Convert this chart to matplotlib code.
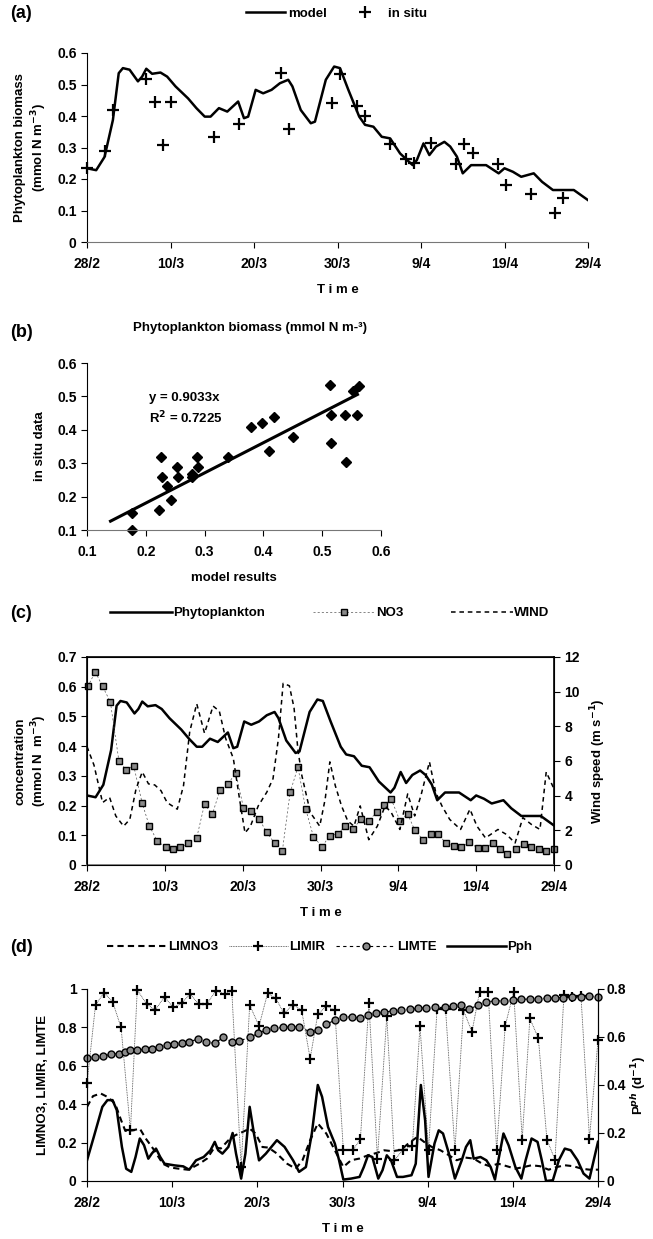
import numpy as np
import matplotlib
matplotlib.use('Agg')
import matplotlib.pyplot as plt

plt.rcParams['font.family'] = ['Liberation Sans', 'DejaVu Sans']
plt.rcParams['font.weight'] = 'bold'
plt.rcParams['axes.labelweight'] = 'bold'
plt.rcParams['font.size'] = 9.5
plt.rcParams['xtick.labelsize'] = 10
plt.rcParams['ytick.labelsize'] = 10

# ---- time axis (days after 28/2) ----
date_ticks = [0, 10, 20, 30, 40, 50, 60]
date_labels = ['28/2', '10/3', '20/3', '30/3', '9/4', '19/4', '29/4']

# ---- (a) model phytoplankton and in situ data ----
model_day = [0, 1.1, 2.1, 3.1, 3.8, 4.3, 5.1, 6.1, 6.6, 7.1, 7.8, 8.8, 9.6, 10.6, 12.1, 13.1,
             14.1, 14.8, 15.8, 16.8, 18.1, 18.8, 19.3, 20.2, 21.1, 22.1, 23.1, 24.1, 24.6,
             25.6, 26.8, 27.3, 28.6, 29.6, 30.3, 31.3, 32.6, 33.3, 34.3, 35.3, 36.3, 37.5,
             39.0, 39.5, 40.3, 41.0, 41.8, 42.8, 43.5, 44.3, 45.0, 46.0, 47.8, 49.3, 50.0,
             51.0, 52.0, 53.5, 54.5, 55.8, 58.3, 60.0]
model_phy = [0.234, 0.228, 0.27, 0.387, 0.536, 0.552, 0.547, 0.51, 0.525, 0.55, 0.534, 0.538,
             0.525, 0.494, 0.456, 0.425, 0.398, 0.398, 0.425, 0.414, 0.446, 0.393, 0.398,
             0.483, 0.472, 0.483, 0.504, 0.515, 0.494, 0.419, 0.377, 0.382, 0.515, 0.557,
             0.552, 0.483, 0.398, 0.372, 0.366, 0.334, 0.329, 0.281, 0.244, 0.26, 0.313,
             0.276, 0.303, 0.318, 0.303, 0.271, 0.218, 0.244, 0.244, 0.218, 0.234, 0.223,
             0.207, 0.218, 0.191, 0.165, 0.165, 0.133]
insitu_day = [0.0, 2.1, 3.1, 7.1, 8.1, 9.1, 10.1, 15.2, 18.2, 23.2, 24.2, 29.3, 30.3, 32.3,
              33.3, 36.3, 38.2, 39.2, 41.2, 44.2, 45.2, 46.2, 49.2, 50.2, 53.2, 56.0, 57.0]
insitu_phy = [0.234, 0.29, 0.42, 0.517, 0.446, 0.308, 0.446, 0.334, 0.374, 0.536, 0.358,
              0.44, 0.534, 0.432, 0.40, 0.311, 0.262, 0.252, 0.313, 0.247, 0.311, 0.281,
              0.249, 0.18, 0.151, 0.092, 0.14]

# ---- (b) model vs in situ ----
sc_model = [0.176, 0.176, 0.225, 0.227, 0.222, 0.236, 0.243, 0.253, 0.255, 0.278, 0.279,
            0.287, 0.289, 0.339, 0.379, 0.398, 0.410, 0.418, 0.451, 0.513, 0.515, 0.515,
            0.538, 0.540, 0.552, 0.559, 0.562]
sc_insitu = [0.15, 0.10, 0.32, 0.26, 0.16, 0.233, 0.19, 0.288, 0.258, 0.268, 0.258, 0.32,
             0.29, 0.318, 0.408, 0.42, 0.337, 0.437, 0.377, 0.535, 0.445, 0.36, 0.445,
             0.305, 0.515, 0.445, 0.532]
fit_slope = 0.9033
fit_r2 = 0.7225
fit_x = [0.14, 0.56]

# ---- (c) NO3 and wind ----
no3_day = [0.1, 1.07, 2.0, 3.0, 4.1, 5.0, 6.0, 7.1, 8.0, 9.0, 10.1, 11.1, 12.0, 13.0, 14.1,
           15.1, 16.1, 17.1, 18.1, 19.1, 20.1, 21.1, 22.1, 23.1, 24.1, 25.1, 26.1, 27.1,
           28.1, 29.1, 30.2, 31.2, 32.2, 33.2, 34.2, 35.2, 36.2, 37.2, 38.2, 39.1, 40.2,
           41.2, 42.1, 43.2, 44.2, 45.1, 46.1, 47.2, 48.1, 49.1, 50.2, 51.1, 52.1, 53.1,
           54.0, 55.1, 56.1, 57.1, 58.1, 59.0, 60.0]
no3 = [0.601, 0.65, 0.601, 0.549, 0.35, 0.321, 0.334, 0.207, 0.132, 0.082, 0.059, 0.054,
       0.059, 0.073, 0.092, 0.205, 0.17, 0.254, 0.271, 0.311, 0.193, 0.181, 0.155, 0.11,
       0.073, 0.048, 0.244, 0.330, 0.188, 0.095, 0.062, 0.099, 0.104, 0.131, 0.121, 0.155,
       0.149, 0.177, 0.202, 0.221, 0.149, 0.171, 0.118, 0.084, 0.103, 0.106, 0.073, 0.064,
       0.059, 0.078, 0.056, 0.056, 0.073, 0.054, 0.037, 0.054, 0.069, 0.062, 0.054, 0.047,
       0.054]
wind_day = [0, 0.9, 2.0, 2.9, 3.7, 4.7, 5.5, 6.3, 7.1, 7.9, 8.7, 9.5, 10.3, 11.6, 12.4, 13.2,
            14.1, 15.1, 16.2, 17.0, 17.8, 18.8, 19.6, 20.3, 21.0, 22.0, 23.1, 23.9, 24.6,
            25.2, 26.0, 26.6, 27.1, 27.6, 28.7, 29.9, 30.6, 31.2, 31.9, 32.7, 33.5, 34.3,
            35.1, 36.2, 37.3, 38.3, 39.1, 40.2, 41.2, 42.1, 42.9, 44.0, 44.8, 45.6, 46.6,
            48.0, 49.2, 50.1, 51.2, 52.8, 53.9, 55.0, 56.0, 57.1, 58.2, 59.0, 60.0]
wind = [6.83, 5.76, 3.6, 3.9, 2.83, 2.24, 2.63, 4.39, 5.37, 4.68, 4.62, 4.29, 3.6, 3.22,
        4.58, 7.7, 9.3, 7.6, 9.17, 8.88, 7.32, 6.15, 3.8, 1.85, 2.24, 3.41, 4.2, 4.98, 7.32,
        10.48, 10.34, 9.07, 6.63, 5.17, 3.02, 2.24, 3.8, 5.95, 4.58, 3.41, 2.54, 2.24, 3.41,
        1.46, 2.24, 3.41, 3.02, 2.05, 4.1, 2.83, 4.0, 5.95, 4.2, 3.41, 2.63, 2.05, 3.22,
        2.24, 1.56, 2.05, 1.76, 1.27, 2.73, 2.34, 2.05, 5.37, 4.39]

# ---- (d) limitation functions and production ----
limte_day = [0, 0.9, 1.85, 2.8, 3.7, 4.5, 5.1, 5.9, 6.8, 7.6, 8.5, 9.4, 10.2, 11.1, 12.0,
             13.0, 14.0, 15.0, 16.0, 17.0, 17.9, 19.1, 20.1, 21.0, 22.0, 23.0, 24.0, 24.9,
             26.2, 27.1, 28.1, 29.1, 30.1, 31.1, 32.0, 33.0, 33.9, 34.9, 35.9, 36.9, 37.9,
             38.9, 39.8, 40.9, 42.0, 42.96, 43.9, 44.9, 45.9, 46.9, 47.9, 48.95, 49.97, 51.0,
             52.0, 52.9, 54.0, 54.9, 55.9, 57.0, 58.0, 59.0, 60.0]
limte = [0.643, 0.647, 0.652, 0.659, 0.664, 0.673, 0.682, 0.682, 0.685, 0.69, 0.699, 0.708,
         0.713, 0.72, 0.725, 0.739, 0.723, 0.717, 0.748, 0.725, 0.73, 0.748, 0.769, 0.786,
         0.795, 0.80, 0.803, 0.803, 0.777, 0.786, 0.816, 0.838, 0.852, 0.856, 0.847, 0.864,
         0.873, 0.878, 0.887, 0.89, 0.894, 0.899, 0.903, 0.904, 0.904, 0.911, 0.917, 0.894,
         0.917, 0.934, 0.937, 0.939, 0.943, 0.946, 0.948, 0.95, 0.951, 0.953, 0.955, 0.957,
         0.96, 0.963, 0.957]
limir_day = [0, 1.0, 2.0, 3.0, 4.0, 5.1, 5.9, 7.0, 8.0, 9.1, 10.1, 11.1, 12.1, 13.1, 14.1,
             15.1, 16.2, 17.0, 18.1, 19.1, 20.2, 21.2, 22.2, 23.1, 24.2, 25.2, 26.2, 27.1,
             28.1, 29.1, 30.1, 31.2, 32.1, 33.1, 34.1, 35.2, 36.1, 37.1, 38.2, 39.1, 40.1,
             41.1, 42.1, 43.2, 44.2, 45.2, 46.1, 47.1, 48.1, 49.1, 50.1, 51.1, 52.0, 53.0,
             54.0, 54.95, 56.0, 57.0, 58.0, 59.0, 60.0]
limir = [0.508, 0.917, 0.981, 0.934, 0.80, 0.264, 0.995, 0.922, 0.89, 0.96, 0.904, 0.925,
         0.974, 0.922, 0.922, 0.991, 0.974, 0.991, 0.073, 0.917, 0.807, 0.977, 0.951, 0.873,
         0.917, 0.89, 0.638, 0.868, 0.911, 0.89, 0.16, 0.16, 0.217, 0.929, 0.117, 0.859,
         0.108, 0.163, 0.181, 0.807, 0.163, 0.894, 0.894, 0.16, 0.89, 0.777, 0.986, 0.986,
         0.16, 0.807, 0.986, 0.216, 0.847, 0.743, 0.216, 0.111, 0.969, 0.96, 0.963, 0.221,
         0.734]
limno3_day = [0, 0.7, 1.6, 2.4, 3.3, 4.0, 4.5, 5.4, 6.2, 6.9, 7.9, 8.9, 9.8, 10.8, 11.8,
              12.5, 13.2, 14.1, 15.0, 15.7, 16.6, 17.4, 18.3, 19.1, 19.8, 20.6, 21.3, 22.3,
              23.5, 24.5, 25.3, 26.2, 27.1, 28.1, 29.1, 30.1, 31.0, 32.0, 33.0, 34.0, 34.9,
              35.9, 36.9, 37.8, 38.8, 39.6, 40.5, 41.5, 42.5, 43.4, 44.4, 45.4, 46.4, 47.3,
              48.3, 49.3, 50.3, 51.3, 52.2, 53.2, 54.2, 55.2, 56.1, 57.1, 58.1, 59.0, 60.0]
limno3 = [0.386, 0.442, 0.456, 0.438, 0.403, 0.317, 0.261, 0.264, 0.273, 0.221, 0.16, 0.09,
          0.07, 0.064, 0.059, 0.073, 0.09, 0.117, 0.177, 0.169, 0.212, 0.238, 0.256, 0.273,
          0.247, 0.177, 0.174, 0.143, 0.09, 0.064, 0.108, 0.212, 0.30, 0.247, 0.16, 0.073,
          0.108, 0.117, 0.134, 0.146, 0.16, 0.155, 0.163, 0.198, 0.23, 0.203, 0.177, 0.16,
          0.134, 0.108, 0.122, 0.117, 0.09, 0.077, 0.09, 0.077, 0.064, 0.073, 0.082, 0.077,
          0.059, 0.073, 0.082, 0.077, 0.064, 0.059, 0.059]
pph_day = [0, 0.8, 1.8, 2.4, 3.0, 3.5, 4.1, 4.6, 5.2, 5.7, 6.2, 6.7, 7.2, 7.6, 8.1, 8.6, 9.1,
           10.3, 11.3, 12.0, 12.8, 13.7, 14.5, 15.0, 15.4, 15.9, 16.6, 17.1, 17.5, 18.1,
           18.6, 19.1, 19.6, 20.2, 21.0, 22.3, 23.2, 24.2, 24.9, 25.7, 26.4, 27.1, 27.6,
           28.3, 29.1, 29.6, 30.1, 31.0, 32.0, 32.5, 33.0, 33.5, 34.2, 34.7, 35.2, 35.7,
           36.4, 37.1, 38.1, 38.6, 39.2, 39.7, 40.1, 40.8, 41.3, 41.8, 42.5, 43.2, 44.0,
           44.5, 45.0, 45.4, 46.2, 46.9, 47.4, 47.9, 48.3, 48.9, 49.5, 50.3, 51.0, 51.5,
           52.2, 52.9, 53.4, 53.9, 54.7, 55.4, 56.1, 56.8, 57.6, 58.3, 59.0, 60.0]
pph = [0.086, 0.184, 0.309, 0.337, 0.337, 0.295, 0.142, 0.051, 0.038, 0.10, 0.177, 0.149,
       0.093, 0.114, 0.135, 0.10, 0.072, 0.065, 0.061, 0.047, 0.086, 0.10, 0.128, 0.163,
       0.128, 0.114, 0.142, 0.20, 0.114, 0.01, 0.114, 0.309, 0.198, 0.086, 0.114, 0.17,
       0.142, 0.086, 0.038, 0.058, 0.198, 0.40, 0.351, 0.225, 0.156, 0.086, 0.006, 0.01,
       0.017, 0.058, 0.107, 0.100, 0.01, 0.045, 0.107, 0.086, 0.017, 0.017, 0.024, 0.072,
       0.40, 0.253, 0.017, 0.156, 0.211, 0.198, 0.114, 0.01, 0.086, 0.142, 0.17, 0.093,
       0.10, 0.086, 0.058, 0.006, 0.086, 0.198, 0.149, 0.058, 0.01, 0.086, 0.177, 0.163,
       0.086, 0.0, 0.003, 0.086, 0.135, 0.128, 0.086, 0.031, 0.01, 0.163]

W, H = 653, 1239
fig = plt.figure(figsize=(W / 100, H / 100), dpi=100)


def box(x0, y0, x1, y1):
    # pixel box (top-left origin) -> figure fraction rect
    return [x0 / W, 1 - y1 / H, (x1 - x0) / W, (y1 - y0) / H]


def time_axis(ax):
    ax.set_xlim(0, 60)
    ax.set_xticks(date_ticks)
    ax.set_xticklabels(date_labels)
    ax.set_xlabel('T i m e', labelpad=9)
    ax.tick_params(axis='x', length=4, pad=7)
    ax.spines['bottom'].set_color('#777777')


def tidy(ax):
    for s in ['top', 'right']:
        ax.spines[s].set_visible(False)
    ax.tick_params(axis='y', length=4, width=0.8, direction='out')
    ax.spines['left'].set_linewidth(0.8)


# ---------------- (a) ----------------
ax1 = fig.add_axes(box(87, 53, 588, 242))
ax1.plot(model_day, model_phy, color='black', lw=1.8, label='model')
ax1.plot(insitu_day, insitu_phy, ls='none', marker='+', ms=8, mew=1.6, color='black',
         label='in situ', clip_on=False)
ax1.set_ylim(0, 0.6)
ax1.set_yticks(np.arange(0, 0.61, 0.1))
ax1.set_yticklabels(['0', '0.1', '0.2', '0.3', '0.4', '0.5', '0.6'])
ax1.set_ylabel('Phytoplankton biomass\n(mmol N m$^{-3}$)', labelpad=6)
tidy(ax1)
time_axis(ax1)
fig.legend(handles=ax1.get_lines(), loc='center', bbox_to_anchor=(0.515, 1 - 14 / H), ncol=2,
           frameon=False, handlelength=3.0, handletextpad=0.2, columnspacing=1.4, fontsize=9.5)
fig.text(0.015, 1 - 14 / H, '(a)', fontsize=13, va='center')

# ---------------- (b) ----------------
ax2 = fig.add_axes(box(87, 363, 381, 530))
ax2.plot(sc_model, sc_insitu, ls='none', marker='D', ms=5, color='black', clip_on=False)
ax2.plot(fit_x, [fit_slope * v for v in fit_x], color='black', lw=2.2)
ax2.set_xlim(0.1, 0.6)
ax2.set_ylim(0.1, 0.6)
ax2.set_xticks(np.arange(0.1, 0.61, 0.1))
ax2.set_yticks(np.arange(0.1, 0.61, 0.1))
ax2.set_xticklabels(['0.1', '0.2', '0.3', '0.4', '0.5', '0.6'])
ax2.set_yticklabels(['0.1', '0.2', '0.3', '0.4', '0.5', '0.6'])
ax2.tick_params(axis='x', length=4, pad=7)
ax2.spines['bottom'].set_color('#777777')
ax2.set_xlabel('model results', labelpad=9)
ax2.set_ylabel('in situ data', labelpad=8)
tidy(ax2)
ax2.text(0.205, 0.495, 'y = %.4fx' % fit_slope, fontsize=9.5, va='center')
ax2.text(0.205, 0.435, 'R$^2$ = %.4f' % fit_r2, fontsize=9.5, va='center')
fig.text(250 / W, 1 - 328 / H, 'Phytoplankton biomass (mmol N m-³)', ha='center', va='center',
         fontsize=9.5)
fig.text(0.015, 1 - 333 / H, '(b)', fontsize=13, va='center')

# ---------------- (c) ----------------
ax3 = fig.add_axes(box(87, 657, 554, 865))
h1, = ax3.plot(model_day, model_phy, color='black', lw=1.8, label='Phytoplankton')
h2, = ax3.plot(no3_day, no3, ls=(0, (3, 3)), lw=0.5, color='#555555', marker='s', ms=4.5,
               mfc='#8a8a8a', mec='black', mew=1.0, label='NO3', clip_on=False)
ax3.set_xlim(0, 60)
ax3.set_ylim(0, 0.7)
ax3.set_yticks(np.arange(0, 0.71, 0.1))
ax3.set_yticklabels(['0', '0.1', '0.2', '0.3', '0.4', '0.5', '0.6', '0.7'])
ax3.set_ylabel('concentration\n(mmol N  m$^{-3}$)', labelpad=6)
ax3.tick_params(axis='y', length=4, width=0.8)
time_axis(ax3)
ax3w = ax3.twinx()
h3, = ax3w.plot(wind_day, wind, color='black', lw=1.1, ls=(0, (3, 2.5)), label='WIND')
ax3w.set_ylim(0, 12)
ax3w.set_yticks(range(0, 13, 2))
ax3w.set_ylabel('Wind speed (m s$^{-1}$)', labelpad=6)
ax3w.tick_params(axis='y', length=4, width=0.8)
for s in ax3.spines.values():
    s.set_linewidth(1.2)
ax3.spines['bottom'].set_color('#777777')
fig.legend(handles=[h1, h2, h3], loc='center', bbox_to_anchor=(0.505, 1 - 613 / H), ncol=3,
           frameon=False, handlelength=4.7, handletextpad=0.1, columnspacing=3.6, fontsize=9.5)
fig.text(0.015, 1 - 613 / H, '(c)', fontsize=13, va='center')

# ---------------- (d) ----------------
ax4 = fig.add_axes(box(87, 989, 598, 1181))
k1, = ax4.plot(limno3_day, limno3, color='black', lw=1.5, ls=(0, (3, 2)), label='LIMNO3')
k2, = ax4.plot(limir_day, limir, color='#444444', lw=0.6, ls=(0, (1, 1)), marker='+', ms=7,
               mew=1.6, mec='black', label='LIMIR', clip_on=False)
k3, = ax4.plot(limte_day, limte, color='black', lw=0.8, ls=(0, (3, 3)), marker='o', ms=5,
               mfc='#8a8a8a', mec='black', mew=1.0, label='LIMTE', clip_on=False)
ax4.set_ylim(0, 1)
ax4.set_yticks(np.arange(0, 1.01, 0.2))
ax4.set_yticklabels(['0', '0.2', '0.4', '0.6', '0.8', '1'])
ax4.set_ylabel('LIMNO3, LIMIR, LIMTE', labelpad=6)
ax4.spines['top'].set_visible(False)
ax4.tick_params(axis='y', length=4, width=0.8)
time_axis(ax4)
ax4r = ax4.twinx()
k4, = ax4r.plot(pph_day, pph, color='black', lw=1.8, label='Pph')
ax4r.set_ylim(0, 0.8)
ax4r.set_yticks(np.arange(0, 0.81, 0.2))
ax4r.set_yticklabels(['0', '0.2', '0.4', '0.6', '0.8'])
ax4r.set_ylabel('P$^{ph}$ (d$^{-1}$)', labelpad=2, fontsize=9.5)
ax4r.tick_params(axis='y', length=4, width=0.8, pad=2)
ax4r.spines['top'].set_visible(False)
fig.legend(handles=[k1, k2, k3, k4], loc='center', bbox_to_anchor=(0.49, 1 - 947 / H), ncol=4,
           frameon=False, handlelength=4.5, handletextpad=0.1, columnspacing=0.8, fontsize=9.5)
fig.text(0.015, 1 - 947 / H, '(d)', fontsize=13, va='center')

fig.savefig('out.png', dpi=100)
